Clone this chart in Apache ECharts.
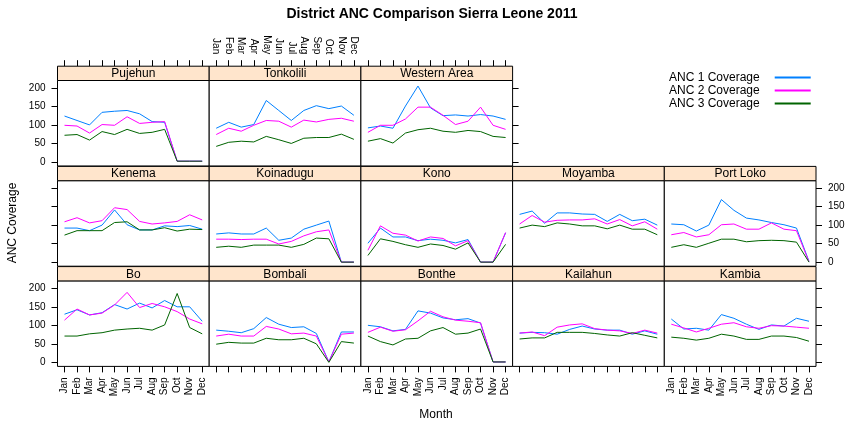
<!DOCTYPE html>
<html>
<head>
<meta charset="utf-8">
<script src="https://cdn.jsdelivr.net/npm/echarts@6/dist/echarts.min.js"></script>
<style>
  html, body { margin: 0; padding: 0; background: #fff; }
  #chart { width: 864px; height: 432px; }
</style>
</head>
<body>
<div id="chart"></div>
<script>
// month labels and panel names (lattice order: bottom row first, left to right)
const months = ['Jan', 'Feb', 'Mar', 'Apr', 'May', 'Jun', 'Jul', 'Aug', 'Sep', 'Oct', 'Nov', 'Dec'];
const districts = ['Bo', 'Bombali', 'Bonthe', 'Kailahun', 'Kambia',
                   'Kenema', 'Koinadugu', 'Kono', 'Moyamba', 'Port Loko',
                   'Pujehun', 'Tonkolili', 'Western Area'];
const seriesNames = ['ANC 1 Coverage', 'ANC 2 Coverage', 'ANC 3 Coverage'];
const yTicks = [0, 50, 100, 150, 200];

// each district: [ANC 1, ANC 2, ANC 3]
const bo = [
  [130, 142, 128, 134, 156, 144, 160, 147, 167, 150, 150, 111],
  [114, 144, 128, 133, 155, 189, 148, 159, 150, 137, 117, 104],
  [71, 71, 77, 80, 87, 90, 92, 87, 101, 186, 94, 77]
];
const bombali = [
  [87, 84, 80, 91, 121, 103, 94, 96, 78, 1, 82, 82],
  [71, 76, 71, 71, 97, 90, 77, 79, 71, 1, 76, 79],
  [49, 54, 52, 52, 65, 61, 61, 65, 50, 0, 56, 52]
];
const bonthe = [
  [100, 96, 85, 89, 139, 133, 120, 115, 118, 106, 1, 1],
  [81, 95, 84, 88, 112, 138, 123, 114, 111, 107, 1, 1],
  [71, 56, 47, 63, 65, 85, 94, 76, 79, 90, 1, 1]
];
const kailahun = [
  [79, 81, 80, 76, 89, 98, 90, 87, 87, 76, 85, 76],
  [79, 82, 72, 95, 101, 104, 91, 87, 85, 78, 87, 79],
  [63, 66, 66, 81, 81, 81, 78, 74, 71, 80, 73, 66]
];
const kambia = [
  [117, 90, 92, 87, 129, 119, 103, 89, 101, 98, 119, 111],
  [103, 93, 82, 92, 103, 107, 96, 92, 99, 98, 95, 92],
  [68, 65, 60, 65, 76, 71, 62, 62, 71, 71, 67, 57]
];
const kenema = [
  [92, 92, 85, 100, 141, 101, 87, 87, 98, 96, 99, 89],
  [109, 120, 106, 112, 147, 142, 110, 103, 106, 110, 128, 114],
  [73, 85, 85, 85, 107, 109, 87, 87, 93, 84, 89, 88]
];
const koinadugu = [
  [76, 79, 76, 76, 92, 59, 65, 89, 100, 111, 0, 0],
  [62, 62, 61, 62, 62, 49, 56, 71, 82, 87, 0, 0],
  [40, 43, 40, 46, 46, 46, 40, 48, 65, 63, 0, 0]
];
const kono = [
  [51, 92, 68, 68, 58, 62, 59, 52, 61, 0, 0, 79],
  [32, 98, 78, 73, 57, 68, 64, 44, 58, 0, 0, 80],
  [18, 63, 56, 47, 40, 49, 45, 35, 52, 0, 0, 48]
];
const moyamba = [
  [129, 138, 105, 133, 133, 130, 129, 110, 129, 112, 116, 100],
  [103, 126, 108, 113, 114, 114, 117, 103, 115, 98, 109, 89],
  [92, 100, 96, 106, 103, 98, 98, 90, 100, 89, 89, 74]
];
const portLoko = [
  [103, 101, 84, 100, 169, 140, 119, 114, 107, 101, 92, 2],
  [74, 80, 68, 74, 101, 103, 89, 89, 106, 89, 85, 1],
  [40, 47, 40, 51, 62, 62, 55, 58, 59, 58, 54, 0]
];
const pujehun = [
  [124, 112, 100, 134, 137, 139, 130, 109, 107, 2, 2, 2],
  [99, 97, 78, 101, 99, 122, 104, 107, 109, 2, 2, 2],
  [72, 74, 59, 82, 74, 88, 77, 80, 88, 2, 2, 2]
];
const tonkolili = [
  [91, 107, 94, 101, 166, 139, 112, 139, 152, 144, 151, 126],
  [74, 91, 83, 99, 112, 110, 94, 113, 108, 115, 118, 110],
  [42, 53, 56, 54, 69, 60, 50, 64, 66, 66, 75, 61]
];
const westernArea = [
  [92, 97, 91, 151, 205, 146, 125, 127, 124, 128, 124, 115],
  [80, 99, 99, 116, 148, 148, 126, 101, 110, 148, 99, 88],
  [56, 63, 51, 78, 87, 91, 83, 80, 85, 82, 69, 66]
];
const panelData = [bo, bombali, bonthe, kailahun, kambia,
                   kenema, koinadugu, kono, moyamba, portLoko,
                   pujehun, tonkolili, westernArea];

const colors = ['#0080ff', '#ff00ff', '#006400'];
const font = "'Liberation Sans', Arial, sans-serif";
const monthIdx = months.map((m, i) => i);

const panelLeft = 57.5, panelW = 151.7;
const panelTop = 80.5, rowStep = 100.2, panelH = 85.5, stripH = 14.3;
const xMin = -0.56, xMax = 11.56, yMin = -11, yMax = 220;

const grids = [], xAxes = [], yAxes = [], series = [], graphics = [];

function xAxisFor(k, pos, showLabel) {
    return {
        gridIndex: k, type: 'value', position: pos, min: xMin, max: xMax,
        offset: pos === 'top' ? stripH : 0,
        axisLine: { show: false, onZero: false },
        splitLine: { show: false },
        axisTick: { show: true, inside: false, length: 6, customValues: monthIdx,
                    lineStyle: { color: '#000', width: 1 } },
        axisLabel: { show: showLabel, rotate: 90, margin: pos === 'top' ? 12 : 11,
                     customValues: monthIdx, formatter: v => months[v],
                     fontSize: 10, color: '#000', fontFamily: font }
    };
}
function yAxisFor(k, pos, showLabel) {
    return {
        gridIndex: k, type: 'value', position: pos, min: yMin, max: yMax,
        axisLine: { show: false, onZero: false },
        splitLine: { show: false },
        axisTick: { show: true, inside: false, length: 6, customValues: yTicks,
                    lineStyle: { color: '#000', width: 1 } },
        axisLabel: { show: showLabel, margin: 12, customValues: yTicks,
                     fontSize: 10, color: '#000', fontFamily: font }
    };
}

districts.forEach(function (name, k) {
    const col = k % 5;
    const row = 2 - Math.floor(k / 5);   // 0 = top row
    const left = panelLeft + col * panelW;
    const top = panelTop + row * rowStep;
    const lastInRow = (k === 4 || k === 9 || k === 12);

    grids.push({ left: left, top: top, width: panelW, height: panelH,
                 show: true, borderColor: '#000', borderWidth: 1, backgroundColor: '#fff' });

    // main axes used by the series
    const xi = xAxes.length;
    const xa = xAxisFor(k, 'bottom', col % 2 === 0);
    xa.show = (row === 2);
    xAxes.push(xa);
    const yi = yAxes.length;
    const ya = yAxisFor(k, 'left', row !== 1);
    ya.show = (col === 0);
    yAxes.push(ya);

    // extra tick axes
    if (row === 0) xAxes.push(xAxisFor(k, 'top', col === 1));
    if (lastInRow) yAxes.push(yAxisFor(k, 'right', row === 1));

    panelData[k].forEach(function (vals, s) {
        series.push({
            name: seriesNames[s], type: 'line',
            xAxisIndex: xi, yAxisIndex: yi,
            data: vals.map((v, i) => [i, v]),
            symbol: 'none', silent: true,
            lineStyle: { color: colors[s], width: 1 },
            itemStyle: { color: colors[s] }
        });
    });

    // strip
    graphics.push({
        type: 'rect', z: 100,
        shape: { x: left, y: top - stripH, width: panelW, height: stripH },
        style: { fill: '#ffe5cc', stroke: '#000', lineWidth: 1 }
    });
    graphics.push({
        type: 'text', z: 101,
        style: { text: name, x: left + panelW / 2, y: top - stripH / 2 + 0.5,
                 textAlign: 'center', textVerticalAlign: 'middle',
                 font: '12px ' + font, fill: '#000' }
    });
});

graphics.push({
    type: 'text',
    style: { text: 'Month', x: 436, y: 415, textAlign: 'center', textVerticalAlign: 'middle',
             font: '12px ' + font, fill: '#000' }
});
graphics.push({
    type: 'text', rotation: Math.PI / 2, x: 13, y: 223,
    style: { text: 'ANC Coverage', x: 0, y: 0, textAlign: 'center', textVerticalAlign: 'middle',
             font: '12px ' + font, fill: '#000' }
});

const chart = echarts.init(document.getElementById('chart'));
chart.setOption({
    animation: false,
    backgroundColor: '#fff',
    title: {
        text: 'District ANC Comparison Sierra Leone 2011',
        left: 'center', top: 2,
        textStyle: { fontSize: 14, fontWeight: 'bold', color: '#000', fontFamily: font }
    },
    legend: {
        data: seriesNames, orient: 'vertical', align: 'right',
        left: 664, top: 66, itemWidth: 36, itemHeight: 13, itemGap: 0,
        selectedMode: false,
        itemStyle: { opacity: 0 },
        textStyle: { fontSize: 12, color: '#000', fontFamily: font, lineHeight: 13,
                     padding: [0, 10, 0, 0] }
    },
    grid: grids,
    xAxis: xAxes,
    yAxis: yAxes,
    series: series,
    graphic: graphics
});
</script>
</body>
</html>
